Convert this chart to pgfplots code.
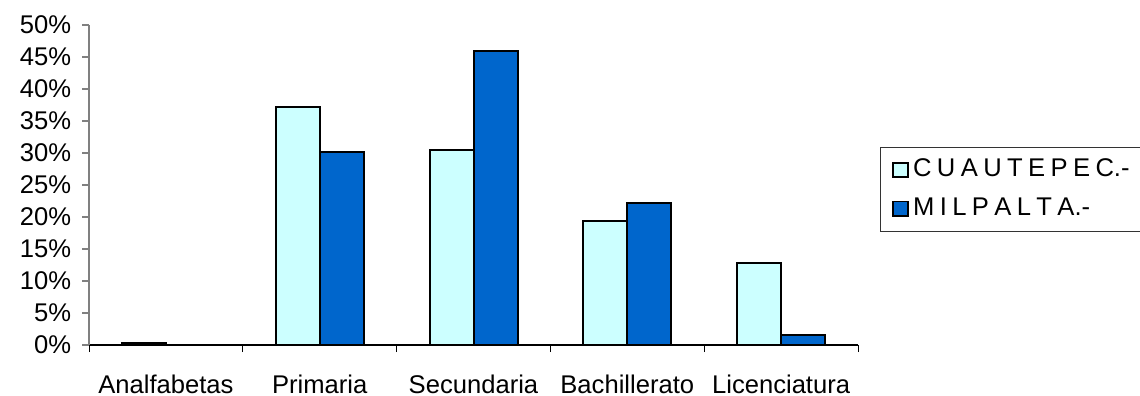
\documentclass[border=0pt]{standalone}
\usepackage{pgfplots}
\pgfplotsset{compat=1.18}
\usepackage{fontspec}
\setmainfont{Liberation Sans}

\definecolor{cuaut}{HTML}{CCFFFF}
\definecolor{milpa}{HTML}{0066CC}
\definecolor{axgray}{HTML}{808080}
% spaced-out capitals in the legend
\newcommand\g{\hspace{0.21em}}

\begin{document}
\fontsize{12.8}{15}\selectfont
\begin{tikzpicture}
\useasboundingbox (0,0) rectangle (570pt,198pt);
\begin{axis}[
  at={(44.5pt,25.5pt)}, anchor=south west,
  scale only axis, width=384.5pt, height=160pt,
  ybar=0pt, bar width=22pt,
  xmin=-0.5, xmax=4.5, ymin=0, ymax=50,
  axis x line*=bottom, axis y line*=left,
  x axis line style={black, line width=0.6pt, -},
  y axis line style={axgray, line width=0.6pt, -},
  xtick={0,1,2,3,4},
  xticklabels={Analfabetas,Primaria,Secundaria,Bachillerato,Licenciatura},
  major x tick style={draw=none},
  minor xtick={-0.5,0.5,1.5,2.5,3.5,4.5},
  minor x tick style={black, line width=0.5pt},
  minor tick length=3.5pt,
  ytick={0,5,...,50},
  yticklabel={\pgfmathprintnumber{\tick}\%},
  y tick style={axgray, line width=0.6pt},
  major tick length=3.5pt,
  tick align=outside,
  /pgf/number format/assume math mode=true,
  ticklabel style={font=\fontsize{12.8}{15}\selectfont},
  xticklabel style={yshift=-7pt},
  yticklabel style={xshift=-1pt},
  legend style={at={(1.0286,0.62)}, anchor=north west,
    draw=black!80, line width=0.5pt,
    font=\fontsize{12.8}{15}\selectfont,
    inner xsep=6pt, inner ysep=4pt,
    row sep=4.5pt},
  legend cell align=left,
  legend image code/.code={\draw[#1, line width=0.8pt] (0pt,-3.6pt) rectangle (7.5pt,3.6pt);},
]
\addplot[fill=cuaut, draw=black, line width=1pt] coordinates {
  (0,0.3) (1,37.2) (2,30.5) (3,19.3) (4,12.8)};
\addplot[fill=milpa, draw=black, line width=1pt] coordinates {
  (0,0) (1,30.2) (2,46.0) (3,22.2) (4,1.6)};
\legend{C\g U\g A\g U\g T\g E\g P\g E\g C.-\hspace{14pt},M\g I\g L\g P\g A\g L\g T\g A.-}
\end{axis}
\end{tikzpicture}
\end{document}
